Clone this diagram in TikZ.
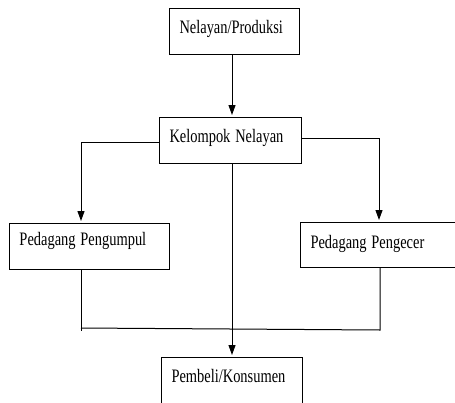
\documentclass[tikz,border=0pt]{standalone}
\usepackage{fontspec}
\setmainfont{Liberation Serif}
\usetikzlibrary{arrows.meta,calc}
\newcommand{\nrw}[1]{\scalebox{0.76}[1]{#1}}
\begin{document}
\begin{tikzpicture}[x=1pt,y=-1pt,
  box/.style={draw, line width=1pt, inner xsep=10.5pt, inner ysep=0pt,
    align=left, text height=12.6pt, font=\fontsize{19}{21}\selectfont},
  conn/.style={line width=1pt},
  arr/.style={conn,-{Triangle[length=10pt,width=7pt]}, shorten >=1.5pt}]
\clip (0,0) rectangle (455,402);
\node[box, text width=109pt, minimum height=46pt, text depth=8pt] (n1) at (234,31) {\nrw{Nelayan/Produksi}};
\node[box, text width=121pt, minimum height=46pt, text depth=7.2pt] (n2) at (230,140) {\nrw{Kelompok Nelayan}};
\node[box, text width=139pt, minimum height=46pt, text depth=13.2pt] (n3) at (89,246) {\nrw{Pedagang Pengumpul}};
\node[box, text width=149pt, minimum height=45pt, text depth=5.6pt] (n4) at (385,244.5) {\nrw{Pedagang Pengecer}};
\node[box, text width=120pt, minimum height=52pt, text depth=14.6pt] (n5) at (231.5,383) {\nrw{Pembeli/Konsumen}};
\draw[arr] ([xshift=-2pt]n1.south) -- ([xshift=-2pt]n1.south |- n2.north);
\draw[arr] ([yshift=-2pt]n2.west) -| ([xshift=-8pt]n3.north);
\draw[arr] ([yshift=2pt]n2.east) -| ([xshift=-6pt]n4.north);
\draw[arr] ([xshift=2pt]n2.south) -- ([xshift=2pt]n2.south |- n5.north);
\coordinate (jl) at (81,328);
\coordinate (jr) at (380,330);
\draw[conn] ([xshift=-8pt]n3.south) -- ([xshift=-8pt]n3.south |- 0,331);
\draw[conn] (jl) -- (jr) -- ([xshift=-5pt]n4.south);
\end{tikzpicture}
\end{document}
